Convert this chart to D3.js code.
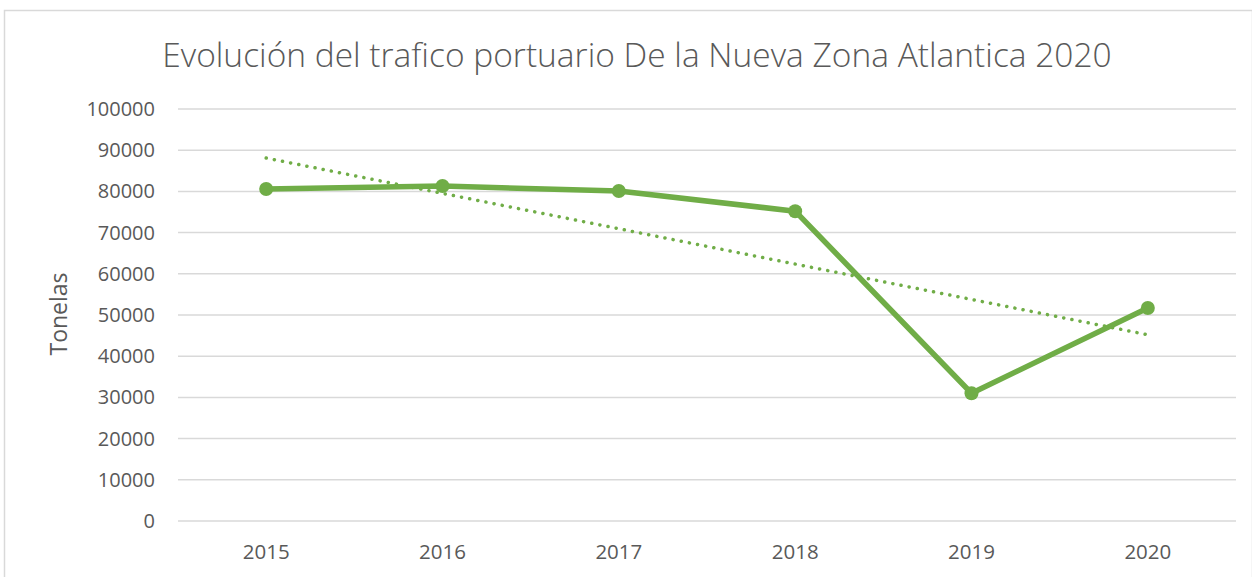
<!DOCTYPE html>
<html>
<head>
<meta charset="utf-8">
<script src="https://cdn.jsdelivr.net/npm/d3@7"></script>
<style>
  body { margin: 0; background: #fff; }
  svg { display: block; font-family: "Open Sans", "Noto Sans", sans-serif; }
</style>
</head>
<body>
<div id="chart"></div>
<script>
// datos
const years = ["2015", "2016", "2017", "2018", "2019", "2020"];
const toneladas = [80600, 81300, 80100, 75200, 31000, 51700];
const yTicks = [0, 10000, 20000, 30000, 40000, 50000, 60000, 70000, 80000, 90000, 100000];

const width = 1252, height = 577;
const margin = { top: 109, right: 16, bottom: 56, left: 178 };

const svg = d3.select("#chart").append("svg")
  .attr("width", width)
  .attr("height", height);

// marco del gráfico
svg.append("rect")
  .attr("x", 4.5).attr("y", 10.5)
  .attr("width", width - 4).attr("height", height)
  .attr("fill", "none")
  .attr("stroke", "#d9d9d9")
  .attr("stroke-width", 1.5);

const x = d3.scaleBand()
  .domain(years)
  .range([margin.left, width - margin.right]);

const y = d3.scaleLinear()
  .domain([0, 100000])
  .range([height - margin.bottom, margin.top]);

// lineas de cuadricula
svg.append("g")
  .selectAll("line")
  .data(yTicks)
  .enter()
  .append("line")
  .attr("x1", margin.left)
  .attr("x2", width - margin.right)
  .attr("y1", d => y(d))
  .attr("y2", d => y(d))
  .attr("stroke", "#d9d9d9")
  .attr("stroke-width", 1.5);

// etiquetas eje Y
svg.append("g")
  .selectAll("text")
  .data(yTicks)
  .enter()
  .append("text")
  .attr("x", 155)
  .attr("y", d => y(d) + 7)
  .attr("text-anchor", "end")
  .attr("font-size", "20px")
  .attr("fill", "#595959")
  .text(d => d);

// etiquetas eje X
svg.append("g")
  .selectAll("text")
  .data(years)
  .enter()
  .append("text")
  .attr("x", d => x(d) + x.bandwidth() / 2)
  .attr("y", 559)
  .attr("text-anchor", "middle")
  .attr("font-size", "20.5px")
  .attr("fill", "#595959")
  .text(d => d);

// titulo eje Y
svg.append("text")
  .attr("transform", "translate(67," + (y(50000) - 1) + ") rotate(-90)")
  .attr("text-anchor", "middle")
  .attr("font-size", "23px")
  .attr("fill", "#595959")
  .text("Tonelas");

// titulo
svg.append("text")
  .attr("x", 637)
  .attr("y", 67)
  .attr("text-anchor", "middle")
  .attr("font-size", "33.5px")
  .attr("font-weight", 300)
  .attr("fill", "#595959")
  .text("Evolución del trafico portuario De la Nueva Zona Atlantica 2020");

const pts = years.map((yr, i) => ({ yr: yr, v: toneladas[i], i: i + 1 }));

// linea de tendencia (regresion lineal)
const n = pts.length;
const mx = d3.mean(pts, d => d.i);
const my = d3.mean(pts, d => d.v);
const slope = d3.sum(pts, d => (d.i - mx) * (d.v - my)) / d3.sum(pts, d => (d.i - mx) * (d.i - mx));
const trend = [pts[0], pts[n - 1]].map(d => ({ yr: d.yr, v: my + slope * (d.i - mx) }));

const cx = d => x(d.yr) + x.bandwidth() / 2;

const line = d3.line()
  .x(cx)
  .y(d => y(d.v));

svg.append("path")
  .datum(trend)
  .attr("fill", "none")
  .attr("stroke", "#70ad47")
  .attr("stroke-width", 3.5)
  .attr("stroke-linecap", "round")
  .attr("stroke-dasharray", "0.1 8.2")
  .attr("d", line);

svg.append("path")
  .datum(pts)
  .attr("fill", "none")
  .attr("stroke", "#70ad47")
  .attr("stroke-width", 5.5)
  .attr("stroke-linejoin", "round")
  .attr("d", line);

svg.append("g")
  .selectAll("circle")
  .data(pts)
  .enter()
  .append("circle")
  .attr("cx", cx)
  .attr("cy", d => y(d.v))
  .attr("r", 7)
  .attr("fill", "#70ad47");
</script>
</body>
</html>
